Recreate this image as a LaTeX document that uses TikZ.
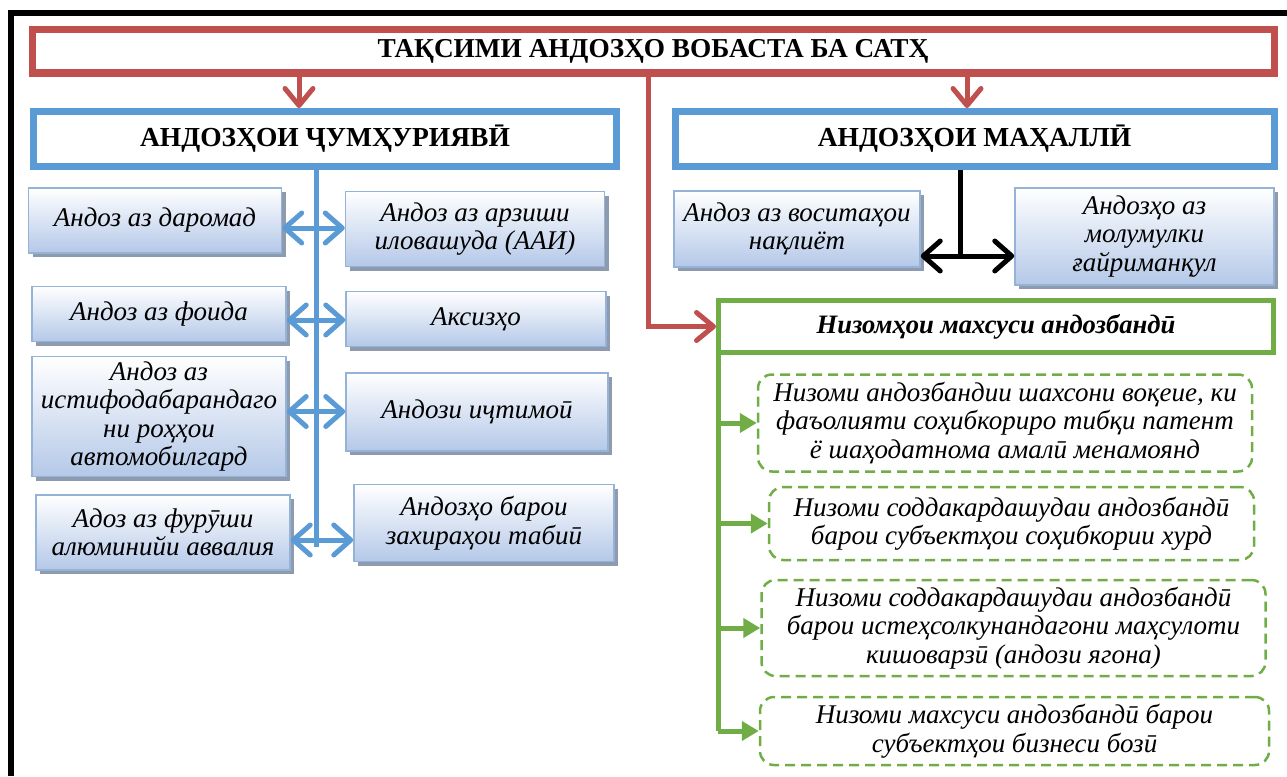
\documentclass[tikz,border=0pt]{standalone}
\usepackage{fontspec}
\setmainfont{Liberation Serif}
\usetikzlibrary{arrows.meta, positioning, shadows}
\definecolor{taxred}{HTML}{C0504D}
\definecolor{taxblue}{HTML}{5B9BD5}
\definecolor{taxgreen}{HTML}{70AD47}
\definecolor{boxedge}{HTML}{95B3D7}
\definecolor{boxfill}{HTML}{B4C8E8}
\definecolor{shadowgray}{HTML}{8E9AAE}
\tikzstyle{taxbox}=[draw=boxedge, line width=1.5pt, top color=white, bottom color=boxfill, drop shadow={shadow xshift=4pt, shadow yshift=-4pt, fill=shadowgray, opacity=1}, inner sep=2pt, align=center, font=\fontsize{27}{28.5}\selectfont\itshape]
\tikzstyle{levelbox}=[draw=taxblue, line width=7pt, fill=white, font=\fontsize{27.5}{32}\selectfont\bfseries]
\tikzstyle{regime}=[draw=taxgreen, line width=2.5pt, dash pattern=on 10pt off 6pt, rounded corners=14pt, align=center, font=\fontsize{27}{28.5}\selectfont\itshape]
\tikzstyle{twoway}=[draw=taxblue, line width=5pt, {Straight Barb[length=17pt, width=30pt, round]}-{Straight Barb[length=17pt, width=30pt, round]}]
\tikzstyle{redarrow}=[draw=taxred, line width=5pt, -{Straight Barb[length=17pt, width=28pt, round]}]
\tikzstyle{greenarrow}=[draw=taxgreen, line width=5pt, -{Triangle[length=17pt, width=19pt]}]

\begin{document}
\begin{tikzpicture}[x=1pt, y=-1pt]
	\useasboundingbox (0,0) rectangle (1287,776);
	\draw[line width=6pt] (11,776) -- (11,13) -- (1287,13);

	\node[draw=taxred, line width=7pt, minimum width=1242pt, minimum height=43pt, font=\fontsize{27.3}{32}\selectfont\bfseries] (top) at (653,51.5) {ТАҚСИМИ АНДОЗҲО ВОБАСТА БА САТҲ};
	\node[levelbox, minimum width=583pt, minimum height=55pt] (fed) at (325,139) {АНДОЗҲОИ ҶУМҲУРИЯВӢ};
	\node[levelbox, minimum width=599pt, minimum height=55pt] (local) at (974.5,139) {АНДОЗҲОИ МАҲАЛЛӢ};

	\draw[taxblue, line width=5pt] (fed.south -| 316,0) -- (316,547);

	\node[taxbox, minimum width=253pt, minimum height=65pt] (daromad) at (155,220.5) {Андоз аз даромад};
	\node[taxbox, minimum width=259pt, minimum height=75pt] (aai) at (475,229) {Андоз аз арзиши\\иловашуда (ААИ)};
	\node[taxbox, minimum width=254pt, minimum height=55pt] (foida) at (159,314) {Андоз аз фоида};
	\node[taxbox, minimum width=260pt, minimum height=55pt] (aksiz) at (476,319) {Аксизҳо};
	\node[taxbox, minimum width=254pt, minimum height=120pt] (roh) at (159,416.5) {Андоз аз\\истифодабарандаго\\ни роҳҳои\\автомобилгард};
	\node[taxbox, minimum width=262pt, minimum height=78pt] (ijtimoi) at (477,412) {Андози иҷтимоӣ};
	\node[taxbox, minimum width=254pt, minimum height=75pt] (alum) at (163,532.5) {Адоз аз фурӯши\\алюминийи аввалия};
	\node[taxbox, minimum width=260pt, minimum height=77pt] (tabii) at (484,523) {Андозҳо барои\\захираҳои табиӣ};

	\foreach \x / \y / \h in {daromad/aai/228, foida/aksiz/320, roh/ijtimoi/411.5, alum/tabii/540}
		\draw[twoway] (\x.east |- 0,\h) -- (\y.west |- 0,\h);

	\node[taxbox, minimum width=246pt, minimum height=76pt] (naql) at (797,229) {Андоз аз воситаҳои\\нақлиёт};
	\node[taxbox, minimum width=259pt, minimum height=97pt] (mulk) at (1144.5,236.5) {Андозҳо аз\\молумулки\\ғайриманқул};

	\coordinate (hub) at (960,256);
	\draw[line width=5pt] (local.south -| hub) -- (hub);
	\draw[line width=5pt, {Straight Barb[length=17pt, width=30pt, round]}-{Straight Barb[length=17pt, width=30pt, round]}] (naql.east |- hub) -- (mulk.west |- hub);

	\node[draw=taxgreen, line width=5pt, minimum width=555pt, minimum height=52pt, font=\fontsize{26.6}{30}\selectfont\bfseries\itshape] (special) at (996,326.5) {Низомҳои махсуси андозбандӣ};

	\draw[redarrow] (top.south -| 299,0) -- (fed.north -| 299,0);
	\draw[redarrow] (top.south -| 967,0) -- (local.north -| 967,0);
	\draw[redarrow] (top.south -| 648,0) |- (special.west);

	\node[regime, minimum width=494pt, minimum height=97pt] (r1) at (1005,423) {Низоми андозбандии шахсони воқеие, ки\\фаъолияти соҳибкориро тибқи патент\\ё шаҳодатнома амалӣ менамоянд};
	\node[regime, minimum width=485pt, minimum height=73pt] (r2) at (1011.5,523.5) {Низоми соддакардашудаи андозбандӣ\\барои субъектҳои соҳибкории хурд};
	\node[regime, minimum width=504pt, minimum height=96pt] (r3) at (1013.5,628) {Низоми соддакардашудаи андозбандӣ\\барои истеҳсолкунандагони маҳсулоти\\кишоварзӣ (андози ягона)};
	\node[regime, minimum width=509pt, minimum height=68pt] (r4) at (1014.5,731) {Низоми махсуси андозбандӣ барои\\субъектҳои бизнеси бозӣ};

	\coordinate (gtrunk) at (718,731);
	\draw[taxgreen, line width=5pt] (special.south -| gtrunk) -- (gtrunk);
	\foreach \r in {r1, r2, r3, r4}
		\draw[greenarrow] (\r.west -| gtrunk) -- (\r.west);
\end{tikzpicture}
\end{document}
